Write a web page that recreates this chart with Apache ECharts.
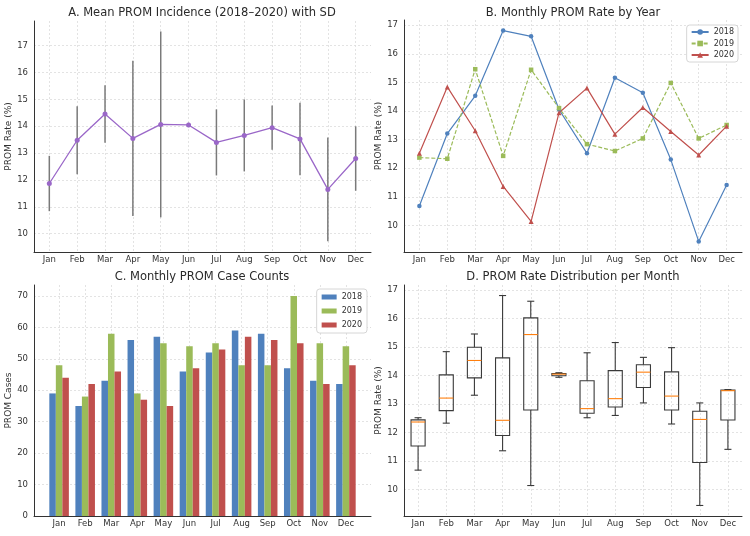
<!DOCTYPE html>
<html>
<head>
<meta charset="utf-8">
<script src="https://cdn.jsdelivr.net/npm/echarts@6/dist/echarts.min.js"></script>
<style>
html, body { margin: 0; padding: 0; background: #fff; }
#main { width: 750px; height: 536px; }
</style>
</head>
<body>
<div id="main"></div>
<script>
var months = ['Jan', 'Feb', 'Mar', 'Apr', 'May', 'Jun', 'Jul', 'Aug', 'Sep', 'Oct', 'Nov', 'Dec'];

// monthly PROM rate (%) per year
var rate2018 = [10.68, 13.21, 14.53, 16.81, 16.61, 14.05, 12.52, 15.16, 14.64, 12.30, 9.44, 11.41];
var rate2019 = [12.37, 12.33, 15.46, 12.43, 15.44, 14.10, 12.84, 12.60, 13.04, 14.98, 13.04, 13.51];
var rate2020 = [12.52, 14.84, 13.31, 11.36, 10.14, 13.94, 14.80, 13.19, 14.12, 13.28, 12.46, 13.47];

// panel A: mean and SD
var meanRate = [11.87, 13.48, 14.46, 13.55, 14.07, 14.05, 13.40, 13.66, 13.95, 13.53, 11.65, 12.80];
var sdRate = [1.03, 1.27, 1.07, 2.89, 3.46, 0.08, 1.23, 1.34, 0.82, 1.35, 1.93, 1.20];

// panel C: case counts
var cases2018 = [39, 35, 43, 56, 57, 46, 52, 59, 58, 47, 43, 42];
var cases2019 = [48, 38, 58, 39, 55, 54, 55, 48, 48, 70, 55, 54];
var cases2020 = [44, 42, 46, 37, 35, 47, 53, 57, 56, 55, 42, 48];

var rateTicks = [10, 11, 12, 13, 14, 15, 16, 17];
var caseTicks = [0, 10, 20, 30, 40, 50, 60, 70];

var FONT = 'DejaVu Sans';
var C18 = '#4f81bd', C19 = '#9bbb59', C20 = '#c0504d';
var monthIdx = months.map(function (m, i) { return i; });

function pairs(values) {
	return values.map(function (v, i) { return [i, v]; });
}

function quantile(sorted, p) {
	var h = (sorted.length - 1) * p;
	var lo = Math.floor(h);
	return sorted[lo] + (h - lo) * ((sorted[lo + 1] !== undefined ? sorted[lo + 1] : sorted[lo]) - sorted[lo]);
}

function boxData() {
	return months.map(function (m, i) {
		var v = [rate2018[i], rate2019[i], rate2020[i]].sort(function (a, b) { return a - b; });
		return [i, v[0], quantile(v, 0.25), quantile(v, 0.5), quantile(v, 0.75), v[v.length - 1]];
	});
}

var gridLine = { show: true, lineStyle: { color: '#dcdcdc', width: 0.8, type: [2, 2] } };

function xAxis(gridIndex, min, max) {
	return {
		type: 'value', gridIndex: gridIndex, min: min, max: max,
		axisLine: { show: true, onZero: false, lineStyle: { color: '#333', width: 1 } },
		axisTick: { show: false, customValues: monthIdx },
		axisLabel: {
			customValues: monthIdx, color: '#333', fontSize: 8.5, fontFamily: FONT, margin: 3,
			formatter: function (v) { return months[Math.round(v)]; }
		},
		splitLine: gridLine
	};
}

function yAxis(gridIndex, min, max, ticks, name) {
	return {
		type: 'value', gridIndex: gridIndex, min: min, max: max,
		name: name, nameLocation: 'middle', nameGap: 14, nameRotate: 90,
		nameTextStyle: { fontSize: 9, color: '#333', fontFamily: FONT },
		axisLine: { show: true, onZero: false, lineStyle: { color: '#333', width: 1 } },
		axisTick: { show: false, customValues: ticks },
		axisLabel: { customValues: ticks, color: '#333', fontSize: 8.5, fontFamily: FONT, margin: 6 },
		splitLine: gridLine
	};
}

function title(text, x, y) {
	return {
		text: text, left: x, top: y, textAlign: 'center', padding: 0,
		textStyle: { fontSize: 11.5, fontWeight: 'normal', color: '#2a2a2a', fontFamily: FONT }
	};
}

function errorBar(params, api) {
	var x = api.value(0), m = api.value(1), s = api.value(2);
	var top = api.coord([x, m + s]);
	var bot = api.coord([x, m - s]);
	return {
		type: 'line',
		shape: { x1: top[0], y1: top[1], x2: bot[0], y2: bot[1] },
		style: { stroke: '#7a7a7a', lineWidth: 1.5 }
	};
}

function barRenderer(offset, color) {
	return function (params, api) {
		var i = api.value(0), v = api.value(1);
		var p0 = api.coord([i + offset - 0.125, v]);
		var p1 = api.coord([i + offset + 0.125, 0]);
		return {
			type: 'rect',
			shape: { x: p0[0], y: p0[1], width: p1[0] - p0[0], height: p1[1] - p0[1] },
			style: { fill: color }
		};
	};
}

function boxRenderer(params, api) {
	var i = api.value(0);
	var half = api.size([0.25, 0])[0];
	var cap = half / 2;
	var lo = api.coord([i, api.value(1)]);
	var q1 = api.coord([i, api.value(2)]);
	var md = api.coord([i, api.value(3)]);
	var q3 = api.coord([i, api.value(4)]);
	var hi = api.coord([i, api.value(5)]);
	var x = lo[0];
	var stroke = { stroke: '#3a3a3a', lineWidth: 1.1, fill: null };
	return {
		type: 'group',
		children: [
			{ type: 'line', shape: { x1: x, y1: lo[1], x2: x, y2: q1[1] }, style: stroke },
			{ type: 'line', shape: { x1: x, y1: q3[1], x2: x, y2: hi[1] }, style: stroke },
			{ type: 'line', shape: { x1: x - cap, y1: lo[1], x2: x + cap, y2: lo[1] }, style: stroke },
			{ type: 'line', shape: { x1: x - cap, y1: hi[1], x2: x + cap, y2: hi[1] }, style: stroke },
			{ type: 'rect', shape: { x: x - half, y: q3[1], width: half * 2, height: q1[1] - q3[1] }, style: stroke },
			{ type: 'line', shape: { x1: x - half, y1: md[1], x2: x + half, y2: md[1] }, style: { stroke: '#ff7f0e', lineWidth: 1.1 } }
		]
	};
}

function lineSeries(name, values, color, symbol, dashed) {
	return {
		name: name, type: 'line', xAxisIndex: 1, yAxisIndex: 1,
		data: pairs(values), symbol: symbol, symbolSize: symbol === 'triangle' ? 5 : 4.5,
		itemStyle: { color: color },
		lineStyle: { color: color, width: 1.2, type: dashed ? [4, 2] : 'solid' }
	};
}

var chart = echarts.init(document.getElementById('main'), null, { renderer: 'canvas' });

var option = {
	backgroundColor: '#fff',
	animation: false,
	textStyle: { fontFamily: FONT },
	title: [
		title('A. Mean PROM Incidence (2018\u20132020) with SD', 202, 7),
		title('B. Monthly PROM Rate by Year', 573, 7),
		title('C. Monthly PROM Case Counts', 202, 271),
		title('D. PROM Rate Distribution per Month', 573, 271)
	],
	grid: [
		{ left: 34, right: 379, top: 21, bottom: 284 },
		{ left: 404, right: 8, top: 20, bottom: 284 },
		{ left: 34, right: 379, top: 285, bottom: 20 },
		{ left: 404, right: 8, top: 285, bottom: 20 }
	],
	xAxis: [
		xAxis(0, -0.55, 11.55),
		xAxis(1, -0.55, 11.55),
		xAxis(2, -0.9625, 11.9625),
		xAxis(3, -0.5, 11.5)
	],
	yAxis: [
		yAxis(0, 9.32, 17.92, rateTicks, 'PROM Rate (%)'),
		yAxis(1, 9.07, 17.18, rateTicks, 'PROM Rate (%)'),
		yAxis(2, 0, 73.5, caseTicks, 'PROM Cases'),
		yAxis(3, 9.07, 17.18, rateTicks, 'PROM Rate (%)')
	],
	legend: [
		{
			data: ['2018', '2019', '2020'], orient: 'vertical', right: 12, top: 25,
			itemWidth: 17, itemHeight: 7, itemGap: 3.5, padding: [3, 4, 3, 4],
			backgroundColor: '#fff', borderColor: '#ccc', borderWidth: 0.8, borderRadius: 3,
			textStyle: { fontSize: 8, color: '#333', fontFamily: FONT }
		},
		{
			data: ['2018 cases', '2019 cases', '2020 cases'], orient: 'vertical', right: 383, top: 289,
			icon: 'rect', itemWidth: 15, itemHeight: 5, itemGap: 6, padding: [4, 5, 4, 5],
			backgroundColor: '#fff', borderColor: '#ccc', borderWidth: 0.8, borderRadius: 3,
			formatter: function (name) { return name.split(' ')[0]; },
			textStyle: { fontSize: 8, color: '#333', fontFamily: FONT }
		}
	],
	series: [
		{
			type: 'custom', xAxisIndex: 0, yAxisIndex: 0, renderItem: errorBar, z: 2,
			data: meanRate.map(function (m, i) { return [i, m, sdRate[i]]; })
		},
		{
			type: 'line', xAxisIndex: 0, yAxisIndex: 0, data: pairs(meanRate), z: 3,
			symbol: 'circle', symbolSize: 5,
			itemStyle: { color: '#9a67c8' }, lineStyle: { color: '#9a67c8', width: 1.3 }
		},
		lineSeries('2018', rate2018, C18, 'circle', false),
		lineSeries('2019', rate2019, C19, 'rect', true),
		lineSeries('2020', rate2020, C20, 'triangle', false),
		{ name: '2018 cases', type: 'custom', xAxisIndex: 2, yAxisIndex: 2, itemStyle: { color: C18 }, renderItem: barRenderer(-0.25, C18), data: pairs(cases2018) },
		{ name: '2019 cases', type: 'custom', xAxisIndex: 2, yAxisIndex: 2, itemStyle: { color: C19 }, renderItem: barRenderer(0, C19), data: pairs(cases2019) },
		{ name: '2020 cases', type: 'custom', xAxisIndex: 2, yAxisIndex: 2, itemStyle: { color: C20 }, renderItem: barRenderer(0.25, C20), data: pairs(cases2020) },
		{
			type: 'custom', xAxisIndex: 3, yAxisIndex: 3, renderItem: boxRenderer,
			encode: { x: 0, y: [1, 2, 3, 4, 5] }, data: boxData()
		}
	]
};

chart.setOption(option);
</script>
</body>
</html>
